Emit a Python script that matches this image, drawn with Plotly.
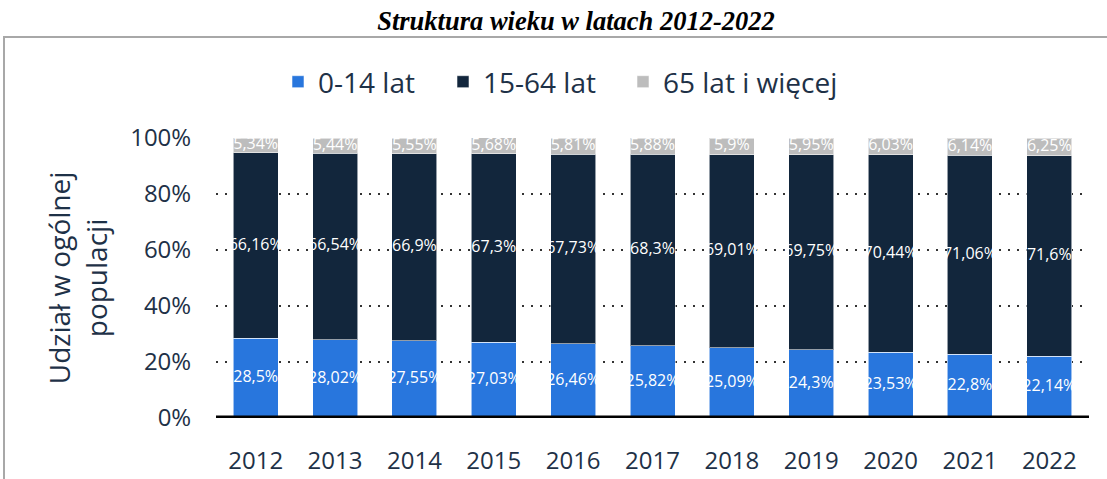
import plotly.graph_objects as go

years = ["2012", "2013", "2014", "2015", "2016", "2017", "2018", "2019", "2020", "2021", "2022"]
age_0_14 = [28.5, 28.02, 27.55, 27.03, 26.46, 25.82, 25.09, 24.3, 23.53, 22.8, 22.14]
age_15_64 = [66.16, 66.54, 66.9, 67.3, 67.73, 68.3, 69.01, 69.75, 70.44, 71.06, 71.6]
age_65 = [5.34, 5.44, 5.55, 5.68, 5.81, 5.88, 5.9, 5.95, 6.03, 6.14, 6.25]
series_names = ["0-14 lat", "15-64 lat", "65 lat i więcej"]
colors = ["#2876dd", "#12263c", "#bdbdbd"]
tick_vals = [0, 20, 40, 60, 80, 100]
tick_text = ["0%", "20%", "40%", "60%", "80%", "100%"]

TXT = "#1e3147"

def fmt(v):
    return ("%g" % v).replace(".", ",") + "%"

W, H = 1107, 479
L, R, T, B = 216, 18, 138, 61
pw, ph = W - L - R, H - T - B

def px(x):
    return (x - L) / pw

def py(y):
    return (H - B - y) / ph

legend_ids = ["legend", "legend2", "legend3"]
legend_left = [293, 458, 638]

fig = go.Figure()
series = [age_0_14, age_15_64, age_65]
for name, vals, col, lid in zip(series_names, series, colors, legend_ids):
    fig.add_trace(go.Bar(
        x=years, y=vals, name=name, legend=lid,
        marker=dict(color=col, line=dict(color="rgba(255,255,255,0.55)", width=1)),
        hoverinfo="skip",
    ))

# value labels centred in each segment
base = [0.0] * len(years)
for vals in series:
    mids = [b + v / 2 for b, v in zip(base, vals)]
    fig.add_trace(go.Scatter(
        x=years, y=mids, mode="text", text=[fmt(v) for v in vals],
        textposition="middle center", showlegend=False, hoverinfo="skip",
        cliponaxis=False,
        textfont=dict(family="Open Sans", size=16, color="white"),
    ))
    base = [b + v for b, v in zip(base, vals)]

legend_style = dict(orientation="h", xanchor="left", y=py(82), yanchor="middle",
                    font=dict(family="Open Sans", size=28, color=TXT),
                    itemwidth=30, bgcolor="rgba(0,0,0,0)")
legends = {lid: dict(legend_style, x=px(xl - 15)) for lid, xl in zip(legend_ids, legend_left)}

fig.update_layout(
    width=W, height=H,
    barmode="stack", bargap=0.433,
    paper_bgcolor="white", plot_bgcolor="white",
    margin=dict(l=L, r=R, t=T, b=B, autoexpand=False),
    title=dict(text="<b><i>Struktura wieku w latach 2012-2022</i></b>",
               x=px(576), xref="paper", xanchor="center", y=1 - 21 / H, yanchor="middle",
               font=dict(family="Liberation Serif", size=26.5, color="black")),
    font=dict(family="Open Sans", color=TXT),
    showlegend=True,
    **legends,
)
fig.update_xaxes(
    range=[-0.5, len(years) - 0.5],
    showgrid=False, showline=False, zeroline=False, automargin=False,
    ticks="outside", ticklen=21, tickcolor="rgba(0,0,0,0)",
    tickfont=dict(family="Open Sans", size=24, color=TXT),
)
fig.update_yaxes(
    range=[0, 100], tickvals=tick_vals, ticktext=tick_text, automargin=False,
    showgrid=True, gridcolor="#333333", griddash="2px,7px", gridwidth=2,
    zeroline=False, showline=False,
    ticks="outside", ticklen=19, tickcolor="rgba(0,0,0,0)",
    tickfont=dict(family="Open Sans", size=24, color=TXT),
    title=dict(text="Udział w ogólnej<br>populacji", standoff=14,
               font=dict(family="Open Sans", size=28, color=TXT)),
)
fig.add_shape(type="line", xref="paper", yref="y", x0=0, x1=1, y0=0, y1=0,
              line=dict(color="black", width=5), layer="above")
fig.add_shape(type="rect", xref="paper", yref="paper",
              x0=px(4), x1=px(1112), y0=py(37), y1=py(490),
              line=dict(color="#a8a8a8", width=2), layer="below")

fig.write_html("out.html", config={"displayModeBar": False},
               post_script="document.body.style.margin='0';")
